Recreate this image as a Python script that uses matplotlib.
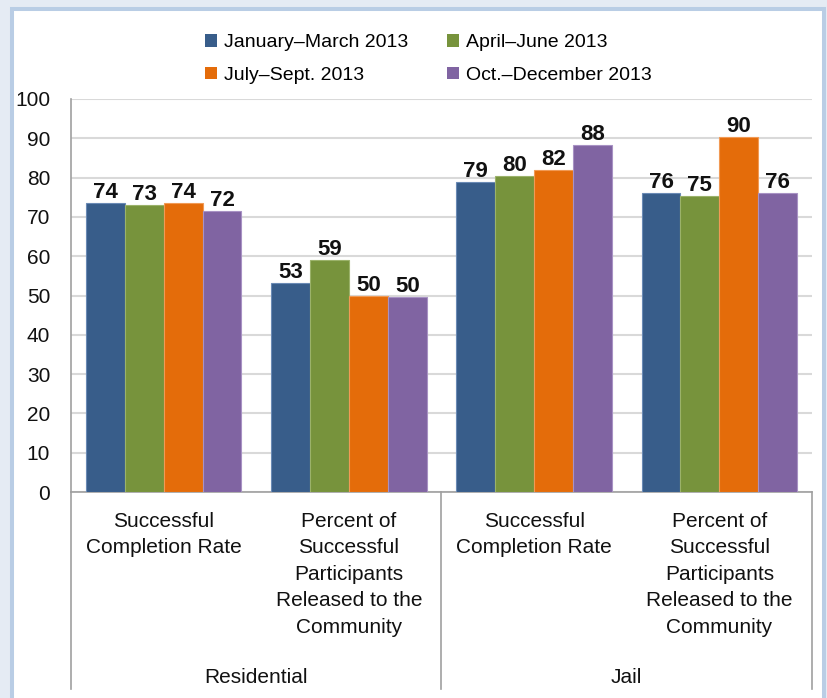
import matplotlib.pyplot as plt
from matplotlib.patches import Rectangle, Patch
import matplotlib.transforms as mtransforms

plt.rcParams['font.family'] = ['Liberation Sans', 'DejaVu Sans']

# quarterly series (percent)
quarters = ['January–March 2013', 'April–June 2013', 'July–Sept. 2013', 'Oct.–December 2013']
categories = ['Successful\nCompletion Rate',
              'Percent of\nSuccessful\nParticipants\nReleased to the\nCommunity',
              'Successful\nCompletion Rate',
              'Percent of\nSuccessful\nParticipants\nReleased to the\nCommunity']
groups = ['Residential', 'Jail']

jan_mar = [73.6, 53.1, 79.0, 76.0]
apr_jun = [73.0, 59.0, 80.4, 75.3]
jul_sep = [73.6, 49.9, 81.9, 90.4]
oct_dec = [71.6, 49.6, 88.4, 76.2]
series = [jan_mar, apr_jun, jul_sep, oct_dec]

colors = ['#385d8a', '#77933c', '#e46c0a', '#8064a2']
edges = ['#6a8ab5', '#9bb26a', '#f19a55', '#a892c4']

fig = plt.figure(figsize=(8.28, 6.98), dpi=100, facecolor='#e5ebf4')

# white panel with light blue frame, kept behind the axes
frame = Rectangle((12 / 828, -0.05), 812 / 828, 1.05 - 9.5 / 698,
                  transform=fig.transFigure, facecolor='white',
                  edgecolor='#b9cde5', linewidth=2.9, zorder=-10)
fig.add_artist(frame)

ax = fig.add_axes([71 / 828, 1 - 492 / 698, 741 / 828, 393 / 698])
ax.set_facecolor('none')

width = 0.21
x = range(len(categories))
for i, (vals, col, ec) in enumerate(zip(series, colors, edges)):
    pos = [c + (i - 1.5) * width for c in x]
    bars = ax.bar(pos, vals, width=width, color=col, edgecolor=ec,
                  linewidth=0.8, label=quarters[i], zorder=3)
    for b, v in zip(bars, vals):
        ax.annotate(f'{v:.0f}', (b.get_x() + b.get_width() / 2, v),
                    xytext=(0, 3.5), textcoords='offset points',
                    ha='center', va='baseline', fontsize=16,
                    fontweight='bold', color='#111111')

ax.set_xlim(-0.5, 3.5)
ax.set_ylim(0, 100)
ax.set_yticks(range(0, 101, 10))
ax.tick_params(axis='y', length=0, pad=15, labelsize=15, labelcolor='#111111')
ax.set_xticks([])
ax.yaxis.grid(True, color='#d9d9d9', linewidth=1.5, zorder=0)
ax.set_axisbelow(True)
for s in ('top', 'right'):
    ax.spines[s].set_visible(False)
for s in ('left', 'bottom'):
    ax.spines[s].set_color('#a0a0a0')
    ax.spines[s].set_linewidth(1.2)

# category axis: separators and two-level labels
for xa in (0, 0.5, 1):
    ax.plot([xa, xa], [0, -0.501], transform=ax.transAxes, clip_on=False,
            color='#a0a0a0', linewidth=1.2)

trans = mtransforms.blended_transform_factory(ax.transData, ax.transAxes)
for i, lab in enumerate(categories):
    ax.text(i, -0.05, lab, transform=trans, ha='center', va='top',
            fontsize=15, linespacing=1.5, color='#111111')
for g, lab in enumerate(groups):
    ax.text(0.5 + 2 * g, -0.486, lab, transform=trans, ha='center',
            va='baseline', fontsize=15, color='#111111')

# legend is filled column by column: reorder so rows read Jan, Apr / Jul, Oct
order = [0, 2, 1, 3]
handles = [Patch(facecolor=colors[k], edgecolor='none') for k in order]
fig.legend(handles, [quarters[k] for k in order], loc='center',
           bbox_to_anchor=(428.5 / 828, 1 - 59 / 698),
           ncol=2, frameon=False, fontsize=14, handlelength=0.62,
           handleheight=0.62, handletextpad=0.35, columnspacing=2.0,
           labelspacing=0.8)

fig.savefig('out.png', dpi=100)
